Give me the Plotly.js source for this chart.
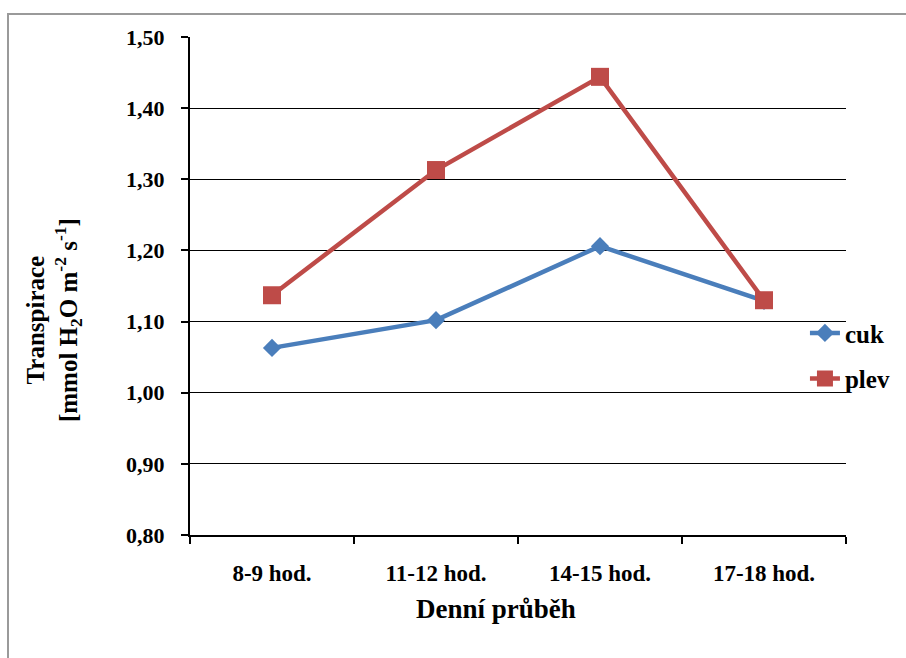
<!DOCTYPE html>
<html>
<head>
<meta charset="utf-8">
<script src="https://cdn.plot.ly/plotly-3.0.1.min.js"></script>
<style>
  html, body { margin: 0; padding: 0; background: #fff; }
  #frame { position: absolute; left: 7px; top: 13px; width: 1000px; height: 1000px;
           border: 2px solid #9a9a9a; box-sizing: border-box; }
  #chart { position: absolute; left: 0; top: 0; width: 906px; height: 658px; }
</style>
</head>
<body>
<div id="frame"></div>
<div id="chart"></div>
<script>
const categories = ["8-9 hod.", "11-12 hod.", "14-15 hod.", "17-18 hod."];
const cukValues = [1.063, 1.102, 1.206, 1.129];
const plevValues = [1.137, 1.313, 1.444, 1.130];
const yTickValues = [0.8, 0.9, 1.0, 1.1, 1.2, 1.3, 1.4, 1.5];

const FONT = "Liberation Serif, Times New Roman, serif";

const traces = [
  {
    x: categories, y: cukValues, name: "cuk", type: "scatter", mode: "lines+markers",
    line: { color: "#4a7ebb", width: 4.5 },
    marker: { symbol: "diamond", size: 14, color: "#4a7ebb" },
    legendgroup: "a"
  },
  {
    x: categories, y: plevValues, name: "plev", type: "scatter", mode: "lines+markers",
    line: { color: "#be4b48", width: 4.5 },
    marker: { symbol: "square", size: 18, color: "#be4b48" },
    legendgroup: "b"
  }
];

const layout = {
  width: 906, height: 658,
  margin: { l: 190, r: 59, t: 37, b: 123 },
  paper_bgcolor: "rgba(0,0,0,0)",
  plot_bgcolor: "rgba(0,0,0,0)",
  separators: ", ",
  font: { family: FONT, color: "#000", size: 22, weight: "bold" },
  showlegend: true,
  legend: {
    x: 0.936, y: 0.36, xanchor: "left", yanchor: "middle",
    bgcolor: "rgba(0,0,0,0)",
    font: { family: FONT, size: 25, color: "#000", weight: "bold" },
    traceorder: "grouped", tracegroupgap: 10, itemwidth: 30
  },
  xaxis: {
    type: "category",
    range: [-0.5, 3.5],
    showline: true, linecolor: "#000", linewidth: 2,
    ticks: "outside", ticklen: 7, tickwidth: 2, tickcolor: "#000",
    tickson: "boundaries",
    ticklabelstandoff: 16,
    showgrid: false, zeroline: false,
    tickfont: { family: FONT, size: 23, color: "#000", weight: "bold" },
    fixedrange: true
  },
  yaxis: {
    range: [0.8, 1.5],
    tickvals: yTickValues,
    tickformat: ".2f",
    showline: true, linecolor: "#000", linewidth: 2,
    ticks: "outside", ticklen: 7, tickwidth: 2, tickcolor: "#000",
    ticklabelstandoff: 12,
    showgrid: true, gridcolor: "#000", gridwidth: 1,
    zeroline: false,
    tickfont: { family: FONT, size: 22, color: "#000", weight: "bold" },
    fixedrange: true
  },
  annotations: [
    {
      text: "Denní průběh",
      xref: "paper", yref: "paper", x: 0.466, y: -0.149,
      xanchor: "center", yanchor: "middle", showarrow: false,
      font: { family: FONT, size: 27, color: "#000", weight: "bold" }
    },
    {
      text: "Transpirace<br>[mmol H<sub>2</sub>O m<sup>-2</sup> s<sup>-1</sup>]",
      xref: "paper", yref: "paper", x: -0.207, y: 0.432,
      xanchor: "center", yanchor: "middle", showarrow: false, textangle: -90,
      font: { family: FONT, size: 25, color: "#000", weight: "bold" }
    }
  ]
};

Plotly.newPlot("chart", traces, layout, { displayModeBar: false, staticPlot: true });
</script>
</body>
</html>
